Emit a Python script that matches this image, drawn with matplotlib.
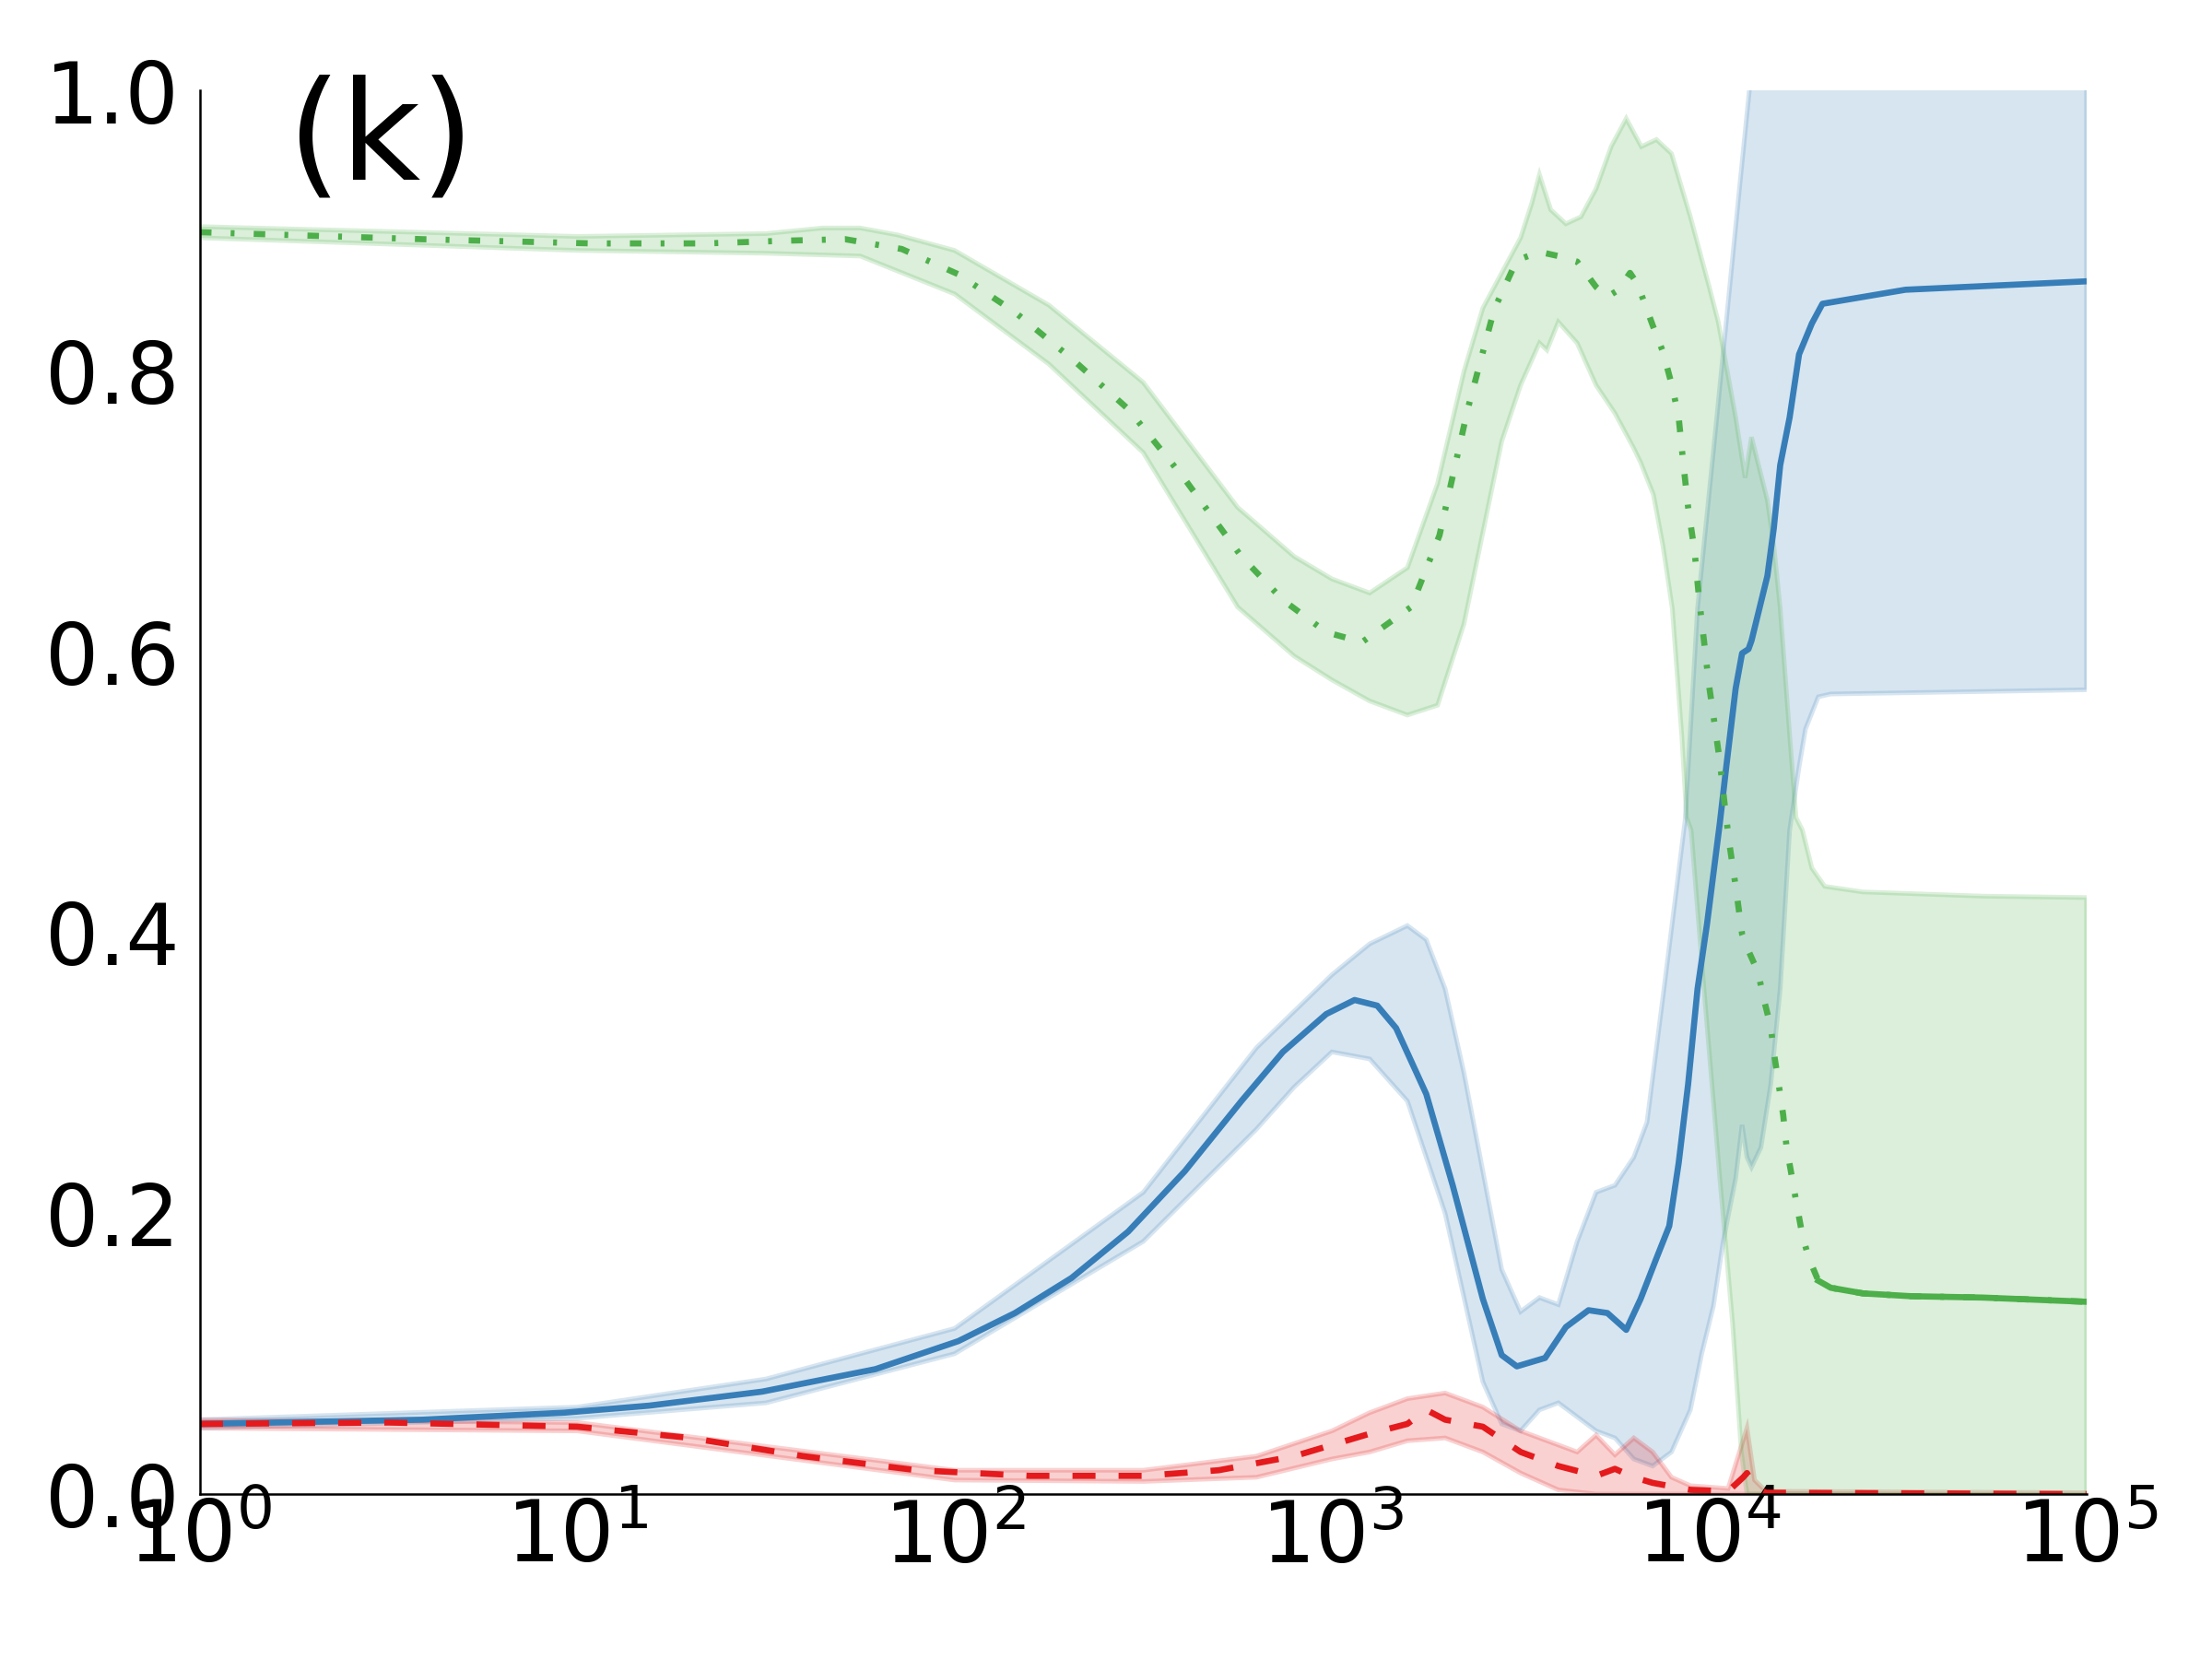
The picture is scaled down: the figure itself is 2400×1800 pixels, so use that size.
import matplotlib
matplotlib.use('Agg')
import matplotlib.pyplot as plt
import numpy as np

# x positions are stored as log10 exponents (x = 10**exp)

# green (dash-dot) series
green_exp = [0, 0.59, 1.04, 1.34, 1.56, 1.71, 1.86, 2.01, 2.16, 2.31, 2.46, 2.61, 2.76, 2.87, 2.985,
             3.08, 3.21, 3.285, 3.36, 3.43, 3.49, 3.55, 3.6, 3.65, 3.7, 3.73, 3.76, 3.79, 3.81, 3.851,
             3.877, 3.902, 3.919, 3.931, 3.944, 3.961, 3.973, 3.986, 3.999, 4.015, 4.028, 4.041, 4.053,
             4.070, 4.087, 4.104, 4.129, 4.146, 4.163, 4.171, 4.184, 4.196, 4.205, 4.217, 4.230, 4.247,
             4.264, 4.289, 4.322, 4.407, 4.533, 4.726, 5.0]
green_mean = [0.899, 0.894, 0.891, 0.891, 0.893, 0.894, 0.887, 0.869, 0.842, 0.809, 0.773, 0.723, 0.668,
              0.637, 0.614, 0.607, 0.632, 0.683, 0.773, 0.844, 0.879, 0.885, 0.882, 0.878, 0.86, 0.853,
              0.858, 0.87, 0.862, 0.832, 0.814, 0.789, 0.767, 0.735, 0.703, 0.672, 0.638, 0.608, 0.577,
              0.547, 0.522, 0.491, 0.464, 0.433, 0.399, 0.387, 0.372, 0.351, 0.333, 0.315, 0.292, 0.270,
              0.247, 0.229, 0.209, 0.184, 0.168, 0.152, 0.147, 0.143, 0.141, 0.140, 0.137]
green_up_exp = [0, 1.0, 1.5, 1.65, 1.75, 1.85, 2.0, 2.25, 2.5, 2.75, 2.9, 3.0, 3.1, 3.2, 3.28, 3.35, 3.4,
                3.45, 3.5, 3.53, 3.55, 3.58, 3.62, 3.66, 3.7, 3.74, 3.78, 3.82, 3.86, 3.9, 3.95, 4.0,
                4.024, 4.070, 4.095, 4.112, 4.154, 4.171, 4.188, 4.213, 4.230, 4.247, 4.272, 4.306,
                4.407, 4.726, 5.0]
green_up = [0.903, 0.896, 0.898, 0.902, 0.902, 0.897, 0.886, 0.847, 0.792, 0.703, 0.668, 0.652, 0.642,
            0.66, 0.72, 0.80, 0.845, 0.87, 0.895, 0.92, 0.94, 0.915, 0.905, 0.91, 0.93, 0.96, 0.98,
            0.96, 0.965, 0.955, 0.91, 0.86, 0.835, 0.767, 0.724, 0.753, 0.708, 0.676, 0.631, 0.541,
            0.482, 0.473, 0.446, 0.433, 0.429, 0.426, 0.425]
green_lo_exp = [0, 1.0, 1.5, 1.75, 2.0, 2.25, 2.5, 2.75, 2.9, 3.0, 3.1, 3.2, 3.28, 3.35, 3.4, 3.45, 3.5,
                3.55, 3.57, 3.6, 3.65, 3.7, 3.75, 3.8, 3.818, 3.852, 3.877, 3.902, 3.927, 3.940, 3.952,
                3.986, 4.028, 4.062, 4.085, 4.1, 5.0]
green_lo = [0.895, 0.886, 0.884, 0.882, 0.855, 0.805, 0.742, 0.632, 0.597, 0.58, 0.565, 0.555, 0.562, 0.62,
            0.685, 0.75, 0.79, 0.82, 0.815, 0.835, 0.82, 0.79, 0.77, 0.745, 0.735, 0.712, 0.676, 0.631,
            0.541, 0.482, 0.473, 0.360, 0.225, 0.121, 0.03, 0.0, 0.0]

# blue (solid) series
blue_exp = [0, 0.59, 0.965, 1.19, 1.49, 1.79, 2.01, 2.16, 2.31, 2.46, 2.61, 2.76, 2.87, 2.985, 3.06, 3.12,
            3.17, 3.25, 3.32, 3.40, 3.45, 3.49, 3.565, 3.62, 3.68, 3.73, 3.78, 3.818, 3.860, 3.894, 3.919,
            3.944, 3.969, 3.994, 4.028, 4.045, 4.070, 4.087, 4.104, 4.112, 4.154, 4.171, 4.188, 4.213,
            4.238, 4.272, 4.30, 4.52, 5.0]
blue_mean = [0.050, 0.053, 0.058, 0.063, 0.073, 0.089, 0.109, 0.129, 0.154, 0.187, 0.23, 0.28, 0.315,
             0.342, 0.352, 0.348, 0.332, 0.285, 0.22, 0.139, 0.099, 0.091, 0.097, 0.119, 0.131, 0.129,
             0.117, 0.139, 0.168, 0.191, 0.236, 0.292, 0.360, 0.406, 0.478, 0.518, 0.574, 0.599, 0.602,
             0.608, 0.654, 0.688, 0.733, 0.767, 0.812, 0.834, 0.848, 0.858, 0.864]
blue_up_exp = [0, 1.0, 1.5, 2.0, 2.5, 2.8, 3.0, 3.1, 3.2, 3.25, 3.3, 3.35, 3.4, 3.45, 3.5, 3.55, 3.6, 3.65,
               3.7, 3.75, 3.8, 3.835, 3.88, 3.936, 3.969, 4.020, 4.045, 4.08, 4.11, 4.2, 5.0]
blue_up = [0.053, 0.062, 0.082, 0.118, 0.215, 0.318, 0.37, 0.392, 0.405, 0.395, 0.36, 0.30, 0.23, 0.16,
           0.13, 0.14, 0.135, 0.18, 0.215, 0.22, 0.24, 0.265, 0.36, 0.48, 0.631, 0.767, 0.835, 0.93, 1.01,
           1.1, 1.15]
blue_lo_exp = [0, 1.0, 1.5, 2.0, 2.5, 2.8, 2.9, 3.0, 3.1, 3.2, 3.3, 3.35, 3.4, 3.45, 3.5, 3.55, 3.6, 3.65,
               3.7, 3.75, 3.8, 3.85, 3.9, 3.95, 3.98, 4.011, 4.037, 4.070, 4.087, 4.1, 4.112, 4.137, 4.163,
               4.188, 4.213, 4.238, 4.255, 4.289, 4.322, 5.0]
blue_lo = [0.047, 0.054, 0.065, 0.1, 0.18, 0.26, 0.29, 0.315, 0.31, 0.28, 0.2, 0.14, 0.08, 0.05, 0.045,
           0.06, 0.065, 0.055, 0.045, 0.04, 0.025, 0.02, 0.03, 0.06, 0.1, 0.134, 0.18, 0.225, 0.263, 0.24,
           0.233, 0.247, 0.292, 0.36, 0.473, 0.518, 0.545, 0.568, 0.570, 0.573]

# red (dashed) series
red_exp = [0, 0.5, 1.0, 1.3, 1.6, 1.9, 2.2, 2.5, 2.7, 2.9, 3.0, 3.1, 3.2, 3.25, 3.3, 3.4, 3.5, 3.6, 3.7,
           3.75, 3.8, 3.85, 3.95, 4.05, 4.09, 4.1, 4.12, 4.15, 5.0]
red_mean = [0.05, 0.051, 0.048, 0.04, 0.027, 0.017, 0.013, 0.013, 0.017, 0.027, 0.035, 0.043, 0.05, 0.06,
            0.053, 0.048, 0.03, 0.02, 0.013, 0.018, 0.012, 0.008, 0.003, 0.002, 0.012, 0.015, 0.005,
            0.001, 0.0]
red_up_exp = [0, 1.0, 2.0, 2.5, 2.8, 3.0, 3.1, 3.2, 3.3, 3.4, 3.5, 3.6, 3.65, 3.7, 3.75, 3.8, 3.85, 3.9,
              3.95, 4.05, 4.08, 4.1, 4.12, 4.15, 5.0]
red_up = [0.053, 0.051, 0.017, 0.017, 0.027, 0.045, 0.058, 0.068, 0.072, 0.062, 0.045, 0.035, 0.03, 0.042,
          0.028, 0.04, 0.03, 0.012, 0.006, 0.004, 0.03, 0.047, 0.01, 0.002, 0.001]
red_lo_exp = [0, 1.0, 2.0, 2.5, 2.8, 3.0, 3.1, 3.2, 3.3, 3.4, 3.5, 3.6, 3.7, 5.0]
red_lo = [0.047, 0.045, 0.01, 0.009, 0.012, 0.025, 0.03, 0.038, 0.04, 0.03, 0.015, 0.003, 0.0, 0.0]

BLUE = '#377eb8'
RED = '#e41a1c'
GREEN = '#4daf4a'


def band(ax, up_exp, up, lo_exp, lo, color):
    xs = np.concatenate([10.0 ** np.array(up_exp), 10.0 ** np.array(lo_exp)[::-1]])
    ys = np.concatenate([np.array(up), np.array(lo)[::-1]])
    ax.fill(xs, ys, color=color, alpha=0.2, linewidth=1.2)


fig = plt.figure(figsize=(8, 6), dpi=300)
ax = fig.add_axes([0.0904, 0.0994, 0.8529, 0.8461])

band(ax, blue_up_exp, blue_up, blue_lo_exp, blue_lo, BLUE)
band(ax, red_up_exp, red_up, red_lo_exp, red_lo, RED)
band(ax, green_up_exp, green_up, green_lo_exp, green_lo, GREEN)

lw = 1.6
ax.plot(10.0 ** np.array(blue_exp), blue_mean, color=BLUE, linewidth=lw, linestyle='-')
ax.plot(10.0 ** np.array(red_exp), red_mean, color=RED, linewidth=lw, linestyle=(0, (6 / lw, 6 / lw)))
ax.plot(10.0 ** np.array(green_exp), green_mean, color=GREEN, linewidth=lw,
        linestyle=(0, (3 / lw, 5 / lw, 1 / lw, 5 / lw)))
# the noisy flat tail of the green curve renders as a continuous line
gx = np.array(green_exp)
tail = gx >= 4.28
ax.plot(10.0 ** gx[tail], np.array(green_mean)[tail], color=GREEN, linewidth=lw, linestyle='-')

ax.set_xscale('log')
ax.set_xlim(1, 1e5)
ax.set_ylim(0, 1)
ax.set_xticks([1, 10, 100, 1e3, 1e4, 1e5])
ax.set_yticks([0, 0.2, 0.4, 0.6, 0.8, 1.0])
ax.set_yticklabels(['0.0', '0.2', '0.4', '0.6', '0.8', '1.0'])
ax.minorticks_off()
ax.tick_params(axis='both', length=0, labelsize=22)
ax.tick_params(axis='y', pad=5.3)
ax.tick_params(axis='x', pad=0.8)

for side in ['top', 'right']:
    ax.spines[side].set_visible(False)
for side in ['left', 'bottom']:
    ax.spines[side].set_linewidth(0.6)

ax.text(0.046, 0.937, '(k)', transform=ax.transAxes, fontsize=36, ha='left', va='baseline')

fig.savefig('out.png', dpi=300)
